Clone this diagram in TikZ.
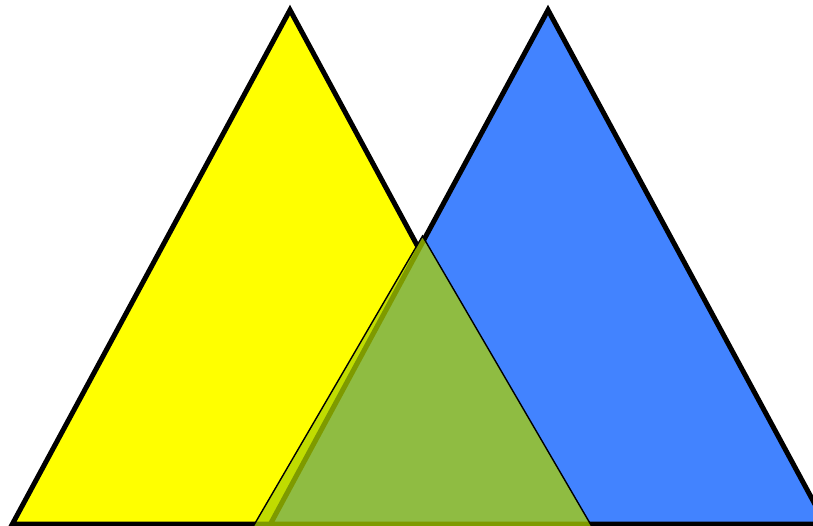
\documentclass[tikz,border=0pt]{standalone}
\usepackage{tikz}
\definecolor{triyellow}{RGB}{255,255,0}
\definecolor{triblue}{RGB}{66,131,255}
\definecolor{trigreen}{RGB}{170,208,0}
\tikzset{
  bigtri/.style={draw=black, line width=5pt, line join=miter},
  greentri/.style={draw=black, line width=1.4pt, line join=miter, fill=trigreen, fill opacity=0.74, draw opacity=1}
}
\begin{document}
\begin{tikzpicture}[x=1pt,y=-1pt]
\useasboundingbox (0,0) rectangle (813,526);
\clip (0,0) rectangle (813,526);
% yellow triangle
\coordinate (ya) at (290,10);
\coordinate (yl) at (12.4,524);
\coordinate (yr) at (567.6,524);
\filldraw[bigtri, fill=triyellow] (ya) -- (yl) -- (yr) -- cycle;
% blue triangle
\coordinate (ba) at (548,10);
\coordinate (bl) at (270.4,524);
\coordinate (br) at (825.6,524);
\filldraw[bigtri, fill=triblue] (ba) -- (bl) -- (br) -- cycle;
% green translucent triangle
\coordinate (ga) at (422.5,236);
\coordinate (gl) at (251.1,530);
\coordinate (gr) at (593.9,530);
\path[fill=trigreen, fill opacity=0.74] (ga) -- (gl) -- (gr) -- cycle;
\draw[black, line width=1.4pt, line join=miter] (gl) -- (ga) -- (gr);
\end{tikzpicture}
\end{document}
